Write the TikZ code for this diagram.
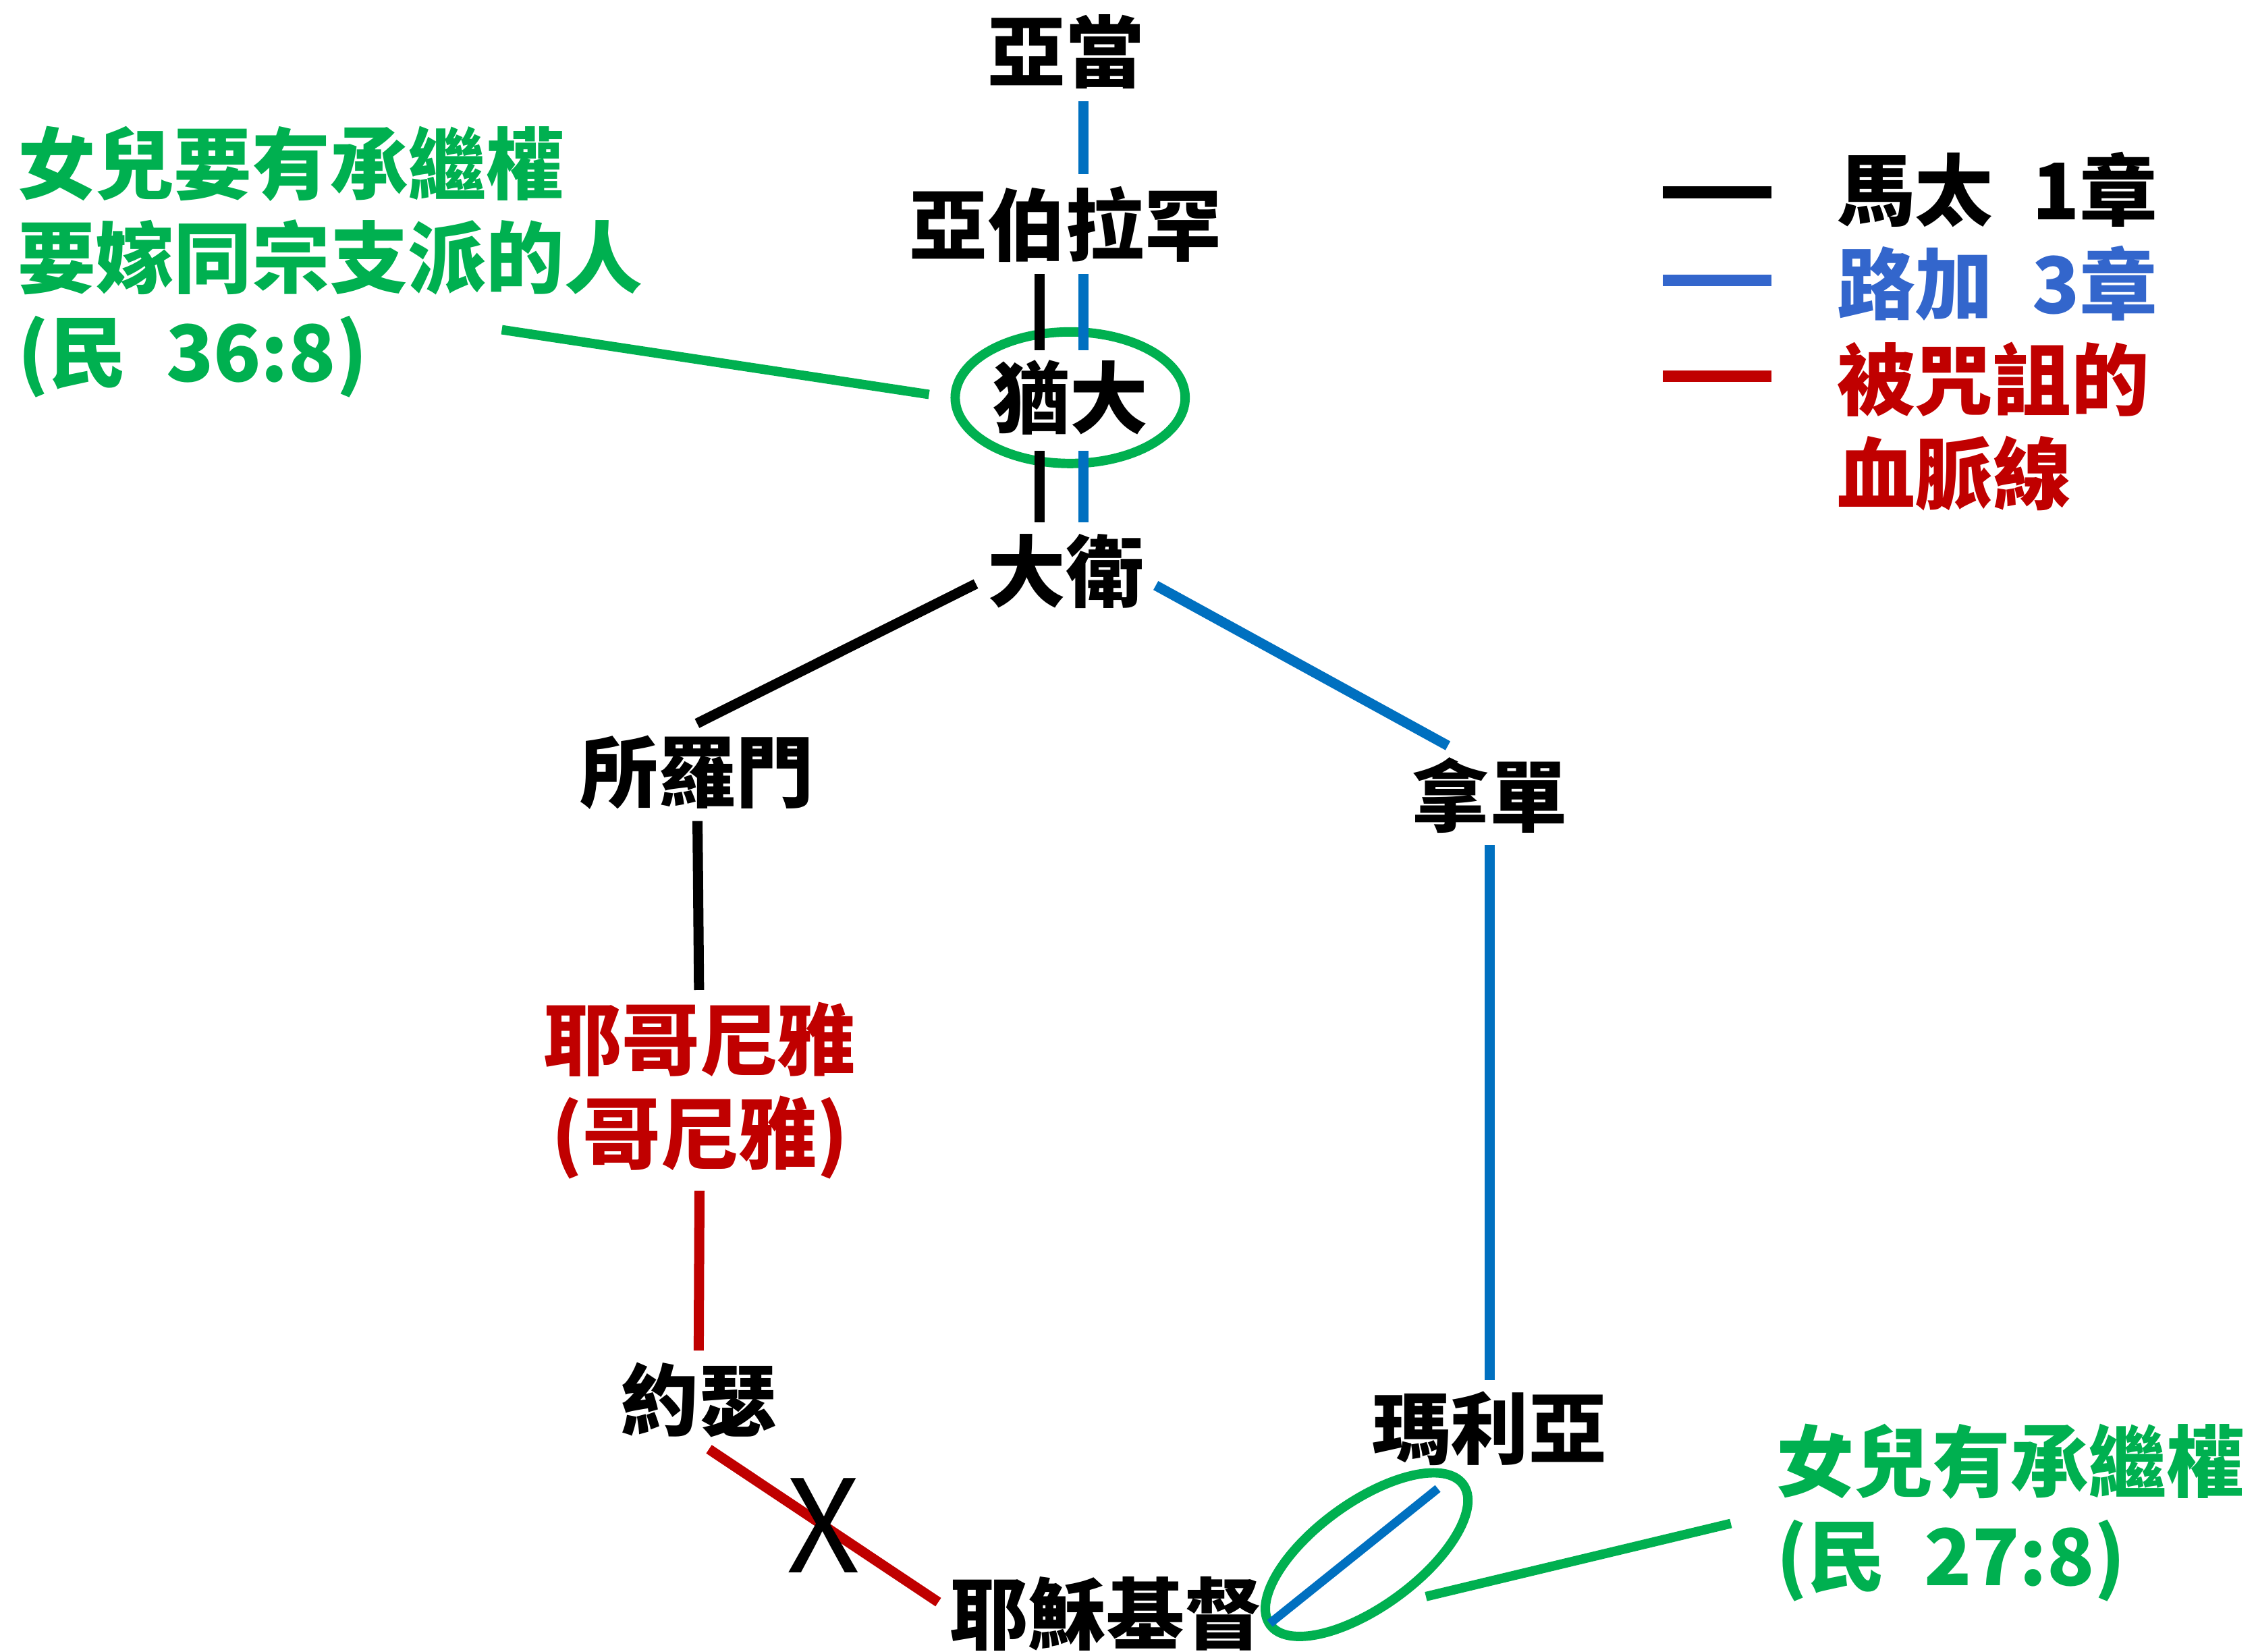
\documentclass[tikz,border=0pt]{standalone}
\usepackage{fontspec}
\setmainfont{Noto Sans CJK TC}
\usepackage{tikz}
\usetikzlibrary{shapes.geometric}
\definecolor{lkblue}{HTML}{0070C0}
\definecolor{lkkey}{HTML}{3366CC}
\definecolor{cursered}{HTML}{C00000}
\definecolor{notegreen}{HTML}{00B050}

\begin{document}
\begin{tikzpicture}[x=1pt, y=-1pt,
                    every node/.style={font=\bfseries\fontsize{54}{65}\selectfont, inner sep=8pt},
                    mtline/.style={draw=black, line width=7pt},
                    lkline/.style={draw=lkblue, line width=7pt},
                    curseline/.style={draw=cursered, line width=7pt},
                    noteline/.style={draw=notegreen, line width=6.5pt},
                    keyline/.style={line width=8pt},
                    ring/.style={draw=notegreen, line width=6.5pt, ellipse, inner sep=0pt},
                    notetext/.style={text=notegreen, align=left, anchor=west, inner sep=0pt},
                    keytext/.style={align=left, anchor=west, inner sep=0pt},
                    crossmark/.style={font=\fontsize{89}{89}\selectfont, inner sep=0pt}]
\useasboundingbox (0,0) rectangle (1560,1142);

\node (adam) at (737,36) {亞當};
\node (abr) at (737,155) {亞伯拉罕};
\node[ring, minimum width=159pt, minimum height=91pt] (jud) at (740,275) {猶大};
\node (dav) at (737,395) {大衛};
\node (sol) at (482,534) {所羅門};
\node (nat) at (1030,550) {拿單};
\node[text=cursered, align=center] (jec) at (484,754) {耶哥尼雅\\(哥尼雅)};
\node (jos) at (483,968) {約瑟};
\node (mar) at (1030,988) {瑪利亞};
\node (jes) at (765,1116) {耶穌基督};
\node[ring, minimum width=165pt, minimum height=72pt, rotate=36] (heir) at (945,1075) {};

\node[notetext] (note1) at (12,181) {女兒要有承繼權\\要嫁同宗支派的人\\(民\enspace 36:8)};
\node[notetext] (note2) at (1228,1046) {女兒有承繼權\\(民\enspace 27:8)};
\coordinate (tail1) at (347,228);
\coordinate (tail2) at (986,1104);

\node[keytext] (key1) at (1270,131) {馬太\enspace 1章};
\node[keytext, text=lkkey] (key2) at (1270,196) {路加\enspace 3章};
\node[keytext, text=cursered] (key3) at (1270,295) {被咒詛的\\血脈線};

\draw[lkline] ([xshift=12pt]adam.south) -- ([xshift=12pt]abr.north);
\draw[mtline] ([xshift=-18pt]abr.south) -- ([xshift=-21pt,yshift=-16pt]jud.north);
\draw[lkline] ([xshift=12pt]abr.south) -- ([xshift=9pt,yshift=-16pt]jud.north);
\draw[mtline] ([xshift=-21pt,yshift=12pt]jud.south) -- ([xshift=-18pt]dav.north);
\draw[lkline] ([xshift=9pt,yshift=12pt]jud.south) -- ([xshift=12pt]dav.north);
\draw[mtline] (dav.188) -- (sol.north);
\draw[lkline] (dav.-9) -- (nat.130);
\draw[mtline] (sol) -- (jec);
\draw[curseline] (jec) -- (jos);
\draw[lkline] (nat) -- (mar);
\draw[curseline] (jos.-78) -- node[crossmark] {X} (jes.176);
\draw[lkline, line width=6pt, shorten <=-4pt, shorten >=12pt] (jes.-2) -- (mar.-128);

\draw[noteline, shorten >=15pt] (tail1) -- (jud.west);
\draw[noteline, shorten >=32pt] (tail2) -- (note2.west);

\draw[keyline, black] ([xshift=-120pt,yshift=-2pt]key1.west) -- ([xshift=-45pt,yshift=-2pt]key1.west);
\draw[keyline, lkkey] ([xshift=-120pt,yshift=2pt]key2.west) -- ([xshift=-45pt,yshift=2pt]key2.west);
\draw[keyline, cursered] ([xshift=-120pt,yshift=35pt]key3.west) -- ([xshift=-45pt,yshift=35pt]key3.west);
\end{tikzpicture}
\end{document}
